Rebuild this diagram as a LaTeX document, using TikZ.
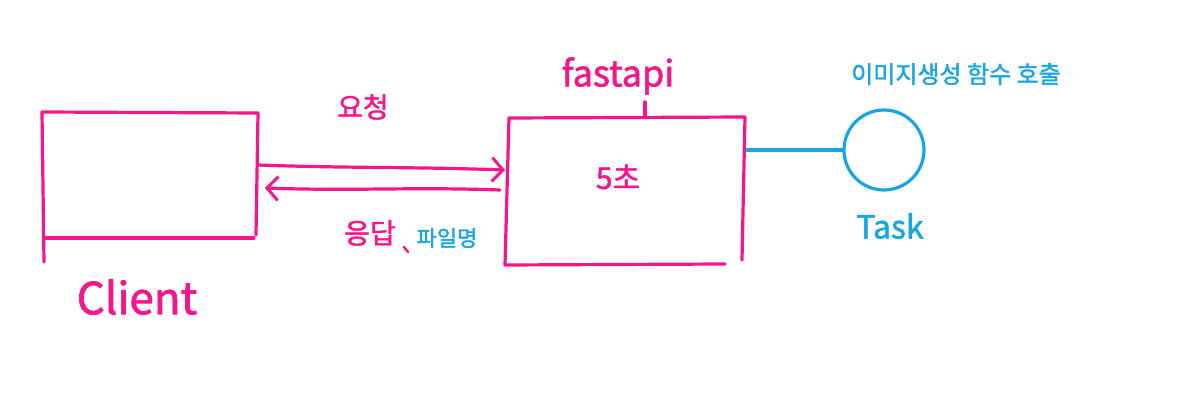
\documentclass[tikz,border=0pt]{standalone}
\usepackage{fontspec}
\setmainfont{Noto Sans CJK KR}[BoldFont={Noto Sans CJK KR}, BoldFeatures={FakeBold=1.6}]
\usetikzlibrary{arrows.meta}
\definecolor{pinkc}{HTML}{F5168C}
\definecolor{bluec}{HTML}{18A6E3}
\tikzset{
  pinkline/.style={draw=pinkc, line width=3.2pt, line cap=round, line join=round},
  blueline/.style={draw=bluec, line width=3.2pt, line cap=round},
  pinktext/.style={text=pinkc, inner sep=0pt},
  bluetext/.style={text=bluec, inner sep=0pt},
  handarrow/.style={-{Straight Barb[length=11pt,width=24pt,line width=3pt]}}
}
\begin{document}
\begin{tikzpicture}[x=1pt,y=-1pt]
\useasboundingbox[fill=white] (0,0) rectangle (1179,409);
% Client box
\draw[pinkline] (42,112) -- (44,262);
\draw[pinkline] (42,112) -- (258,113) -- (256,235);
\draw[pinkline] (44,238) -- (254,238);
\coordinate (c1) at (258,165);
\coordinate (c2) at (265,188);
\node[pinktext, font=\fontsize{44}{44}\selectfont\bfseries] (client) at (137,297) {Client};
% fastapi box
\draw[pinkline] (509,118) -- (505,265) -- (725,264);
\draw[pinkline] (509,118) -- (745,117) -- (742,260);
\draw[pinkline] (645,102) -- (645,117);
\coordinate (f1) at (505,170);
\coordinate (f2) at (500,190);
\coordinate (f3) at (747,150);
\node[pinktext, font=\fontsize{36}{36}\selectfont\bfseries] (fastapi) at (618,76) {fastapi};
\node[pinktext, font=\fontsize{30}{30}\selectfont\bfseries] (sec) at (618,177) {5초};
% arrows
\draw[pinkline, handarrow] (c1) to[out=-2,in=178] (f1);
\draw[pinkline, handarrow] (f2) to[out=178,in=-2] (c2);
\node[pinktext, font=\fontsize{28}{28}\selectfont\bfseries] (req) at (363,107) {요청};
\node[pinktext, font=\fontsize{28}{28}\selectfont\bfseries] (resp) at (370,233) {응답};
\draw[pinkline, line width=2.4pt] (404,247) -- (408,252);
\node[bluetext, font=\fontsize{22}{22}\selectfont\bfseries] (fname) at (447,238) {파일명};
% Task
\node[draw=bluec, line width=3.2pt, circle, minimum size=80pt, inner sep=0pt] (task) at (884,150) {};
\draw[blueline] (f3) -- (task.west);
\node[bluetext, font=\fontsize{32}{32}\selectfont\bfseries] (tasklbl) at (890,226) {Task};
\node[bluetext, font=\fontsize{24}{24}\selectfont\bfseries] (call) at (956,74) {이미지생성 함수 호출};
\end{tikzpicture}
\end{document}
